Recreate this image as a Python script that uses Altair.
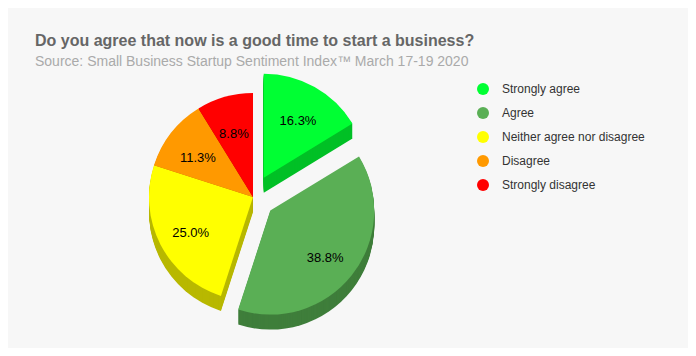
import altair as alt
import pandas as pd

categories = ["Strongly agree", "Agree", "Neither agree nor disagree", "Disagree", "Strongly disagree"]
values = [16.3, 38.8, 25.0, 11.3, 8.8]
labels = ["16.3%", "38.8%", "25.0%", "11.3%", "8.8%"]
colors = ["#00FF33", "#5AAF55", "#FFFF00", "#FF9900", "#FF0000"]
side_colors = ["#00C026", "#3F7E3B", "#B8B800", "#B86E00", "#B80000"]
exploded = [1, 1, 0, 0, 0]

df = pd.DataFrame({
    "category": categories,
    "value": values,
    "label": labels,
    "order": list(range(len(categories))),
    "side": side_colors,
    "explode": exploded,
})

TOP = 72
CX, CY = 245, 197 - 8 - TOP
R = 104
EXPLODE = 22
DEPTH = 15
LR = 70
FONT = "Liberation Sans"

base = alt.Chart(df).transform_window(
    cum="sum(value)", sort=[alt.SortField("order")], frame=[None, 0]
).transform_joinaggregate(
    total="sum(value)"
).transform_calculate(
    t0="2*PI*(datum.cum - datum.value)/datum.total",
    t1="2*PI*datum.cum/datum.total",
).transform_calculate(
    mid="(datum.t0 + datum.t1)/2",
).transform_calculate(
    cx=f"{CX} + datum.explode*{EXPLODE}*sin(datum.mid)",
    cy=f"{CY} - datum.explode*{EXPLODE}*cos(datum.mid)",
)

layers = []
for d in range(DEPTH, 0, -1):
    layers.append(
        base.transform_calculate(cyd=f"datum.cy + {d}").mark_arc(radius=R, strokeWidth=0).encode(
            x=alt.X("cx:Q", scale=None, axis=None),
            y=alt.Y("cyd:Q", scale=None, axis=None),
            theta=alt.Theta("t0:Q", scale=None, stack=None),
            theta2="t1:Q",
            color=alt.Color("side:N", scale=None),
        )
    )

top = base.mark_arc(radius=R, strokeWidth=0, opacity=1).encode(
    x=alt.X("cx:Q", scale=None, axis=None),
    y=alt.Y("cy:Q", scale=None, axis=None),
    theta=alt.Theta("t0:Q", scale=None, stack=None),
    theta2="t1:Q",
    color=alt.Color(
        "category:N",
        scale=alt.Scale(domain=categories, range=colors),
        legend=alt.Legend(
            title=None, orient="none", legendX=469, legendY=3,
            symbolType="circle", symbolSize=144, symbolStrokeWidth=0, symbolOpacity=1,
            labelFontSize=12, labelFont=FONT, labelColor="#333333",
            rowPadding=12, labelOffset=13,
        ),
    ),
)
layers.append(top)

text = base.transform_calculate(
    lx=f"datum.cx + {LR}*sin(datum.mid)",
    ly=f"datum.cy - {LR}*cos(datum.mid) + 4",
).mark_text(fontSize=13, font=FONT, color="#000000").encode(
    x=alt.X("lx:Q", scale=None, axis=None),
    y=alt.Y("ly:Q", scale=None, axis=None),
    text="label:N",
)
layers.append(text)

chart = alt.layer(*layers).properties(
    width=680,
    height=340 - TOP,
    padding={"left": 0, "top": TOP, "right": 0, "bottom": 0},
    autosize=alt.AutoSizeParams(type="none"),
    background="#F7F7F7",
    title=alt.Title(
        "Do you agree that now is a good time to start a business?",
        subtitle="Source: Small Business Startup Sentiment Index\u2122 March 17-19 2020",
        anchor="start", dx=27, offset=5,
        fontSize=16, fontWeight="bold", color="#666666", font=FONT,
        subtitleFontSize=14, subtitleColor="#AAAAAA", subtitleFont=FONT,
        subtitlePadding=6,
    ),
).configure_view(stroke=None)

chart.save("out.html", embed_options={"renderer": "svg", "actions": False})
